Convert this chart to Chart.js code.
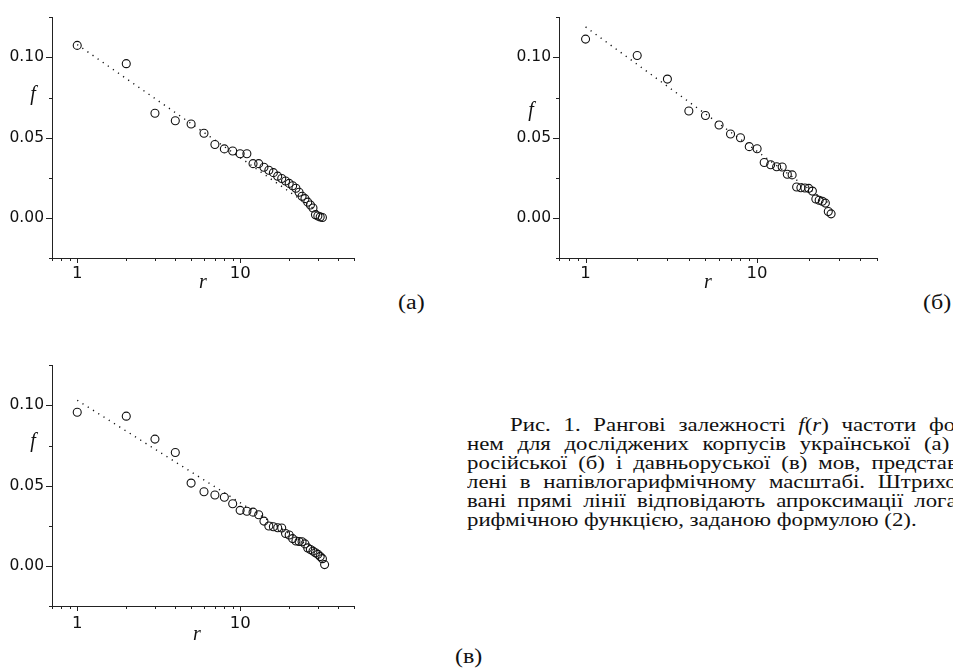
<!DOCTYPE html>
<html><head><meta charset="utf-8">
<script src="https://cdn.jsdelivr.net/npm/chart.js@4.4.0/dist/chart.umd.min.js"></script>
<style>
html,body{margin:0;padding:0;background:#fff;}
body{width:953px;height:668px;overflow:hidden;position:relative;}
.cw{position:absolute;}
.serif{position:absolute;font-family:"Liberation Serif","Times New Roman",serif;font-size:19px;line-height:19px;color:#111;transform-origin:0 0;transform:scaleX(1.2);white-space:nowrap;}
.ln{display:flex;justify-content:space-between;}
.lab{font-size:20px;line-height:20px;}
</style></head><body>
<div class="cw" style="left:0;top:0;"><canvas id="ca" width="380" height="300"></canvas></div>
<div class="cw" style="left:500px;top:0;"><canvas id="cb" width="400" height="300"></canvas></div>
<div class="cw" style="left:0;top:348px;"><canvas id="cc" width="380" height="300"></canvas></div>

<div class="serif lab" style="left:398px;top:292px">(а)</div>
<div class="serif lab" style="left:923px;top:292px">(б)</div>
<div class="serif lab" style="left:455px;top:646px">(в)</div>

<div class="serif ln" style="left:510px;top:415px;width:371px"><span>Рис.</span><span>1.</span><span>Рангові</span><span>залежності</span><span><i>f</i>(<i>r</i>)</span><span>частоти</span><span>фо</span></div>
<div class="serif ln" style="left:467px;top:434px;width:402px"><span>нем</span><span>для</span><span>досліджених</span><span>корпусів</span><span>української</span><span>(а)</span></div>
<div class="serif ln" style="left:467px;top:453px;width:409px"><span>російської</span><span>(б)</span><span>і</span><span>давньоруської</span><span>(в)</span><span>мов,</span><span>представ</span></div>
<div class="serif ln" style="left:467px;top:472px;width:408px"><span>лені</span><span>в</span><span>напівлогарифмічному</span><span>масштабі.</span><span>Штрихо</span></div>
<div class="serif ln" style="left:467px;top:491px;width:408px"><span>вані</span><span>прямі</span><span>лінії</span><span>відповідають</span><span>апроксимації</span><span>лога</span></div>
<div class="serif" style="left:467px;top:510px">рифмічною функцією, заданою формулою (2).</div>

<script>
// ---- data ----
const ranksA = [1,2,3,4,5,6,7,8,9,10,11,12,13,14,15,16,17,18,19,20,21,22,23,24,25,26,27,28,29,30,31,32];
const freqA  = [0.1075,0.0961,0.0652,0.0605,0.0585,0.0527,0.0457,0.0430,0.0417,0.0400,0.0400,0.0338,0.0338,0.0316,0.0297,0.0282,0.0260,0.0245,0.0230,0.0215,0.0200,0.0185,0.0160,0.0135,0.0120,0.0098,0.0080,0.0062,0.0020,0.0012,0.0006,0.0002];
const fitRA  = [1, 32];
const fitFA  = [0.108, 0.0020];

const ranksB = [1,2,3,4,5,6,7,8,9,10,11,12,13,14,15,16,17,18,19,20,21,22,23,24,25,26,27];
const freqB  = [0.1114,0.1012,0.0865,0.0666,0.0638,0.0579,0.0523,0.0499,0.0444,0.0431,0.0345,0.0331,0.0319,0.0317,0.0272,0.0268,0.0192,0.0188,0.0186,0.0184,0.0167,0.0118,0.0110,0.0104,0.0092,0.0040,0.0025];
const fitRB  = [1, 26];
const fitFB  = [0.119, 0.0093];

const ranksC = [1,2,3,4,5,6,7,8,9,10,11,12,13,14,15,16,17,18,19,20,21,22,23,24,25,26,27,28,29,30,31,32,33];
const freqC  = [0.0957,0.0933,0.0790,0.0707,0.0516,0.0462,0.0442,0.0428,0.0387,0.0346,0.0340,0.0335,0.0319,0.0279,0.0249,0.0244,0.0238,0.0236,0.0202,0.0192,0.0170,0.0155,0.0152,0.0150,0.0137,0.0112,0.0102,0.0092,0.0082,0.0072,0.0058,0.0045,0.0008];
const fitRC  = [1, 33];
const fitFC  = [0.1032, 0.0063];

const xTickValues = [0.7,0.8,0.9,1,2,3,4,5,6,7,8,9,10,20,30,40,50];
const xTickLabels = ['','','','1','','','','','','','','','10','','','',''];
const yTickValues = [-0.025,0,0.025,0.05,0.075,0.1,0.125];
const yTickLabels = ['','0.00','','0.05','','0.10',''];

const INK = '#111';

const axisDeco = {
  id: 'axisDeco',
  afterDraw(chart, args, o) {
    const {ctx, chartArea: ca, scales: {x, y}} = chart;
    ctx.save();
    ctx.strokeStyle = '#222';
    ctx.lineWidth = 1;
    ctx.beginPath();
    x.ticks.forEach((t, i) => {
      const px = Math.round(x.getPixelForValue(t.value)) + 0.5;
      const len = xTickLabels[i] ? 5 : 3;
      ctx.moveTo(px, ca.bottom); ctx.lineTo(px, ca.bottom + len);
    });
    y.ticks.forEach((t, i) => {
      const py = Math.round(y.getPixelForValue(t.value)) + 0.5;
      const len = yTickLabels[i] ? 6 : 3;
      ctx.moveTo(ca.left, py); ctx.lineTo(ca.left - len, py);
    });
    ctx.stroke();
    ctx.fillStyle = INK;
    ctx.font = 'italic 20px "Liberation Serif", "Times New Roman", serif';
    ctx.textAlign = 'center';
    ctx.textBaseline = 'middle';
    ctx.fillText('r', (ca.left + ca.right) / 2 + o.rDx, ca.bottom + o.rDy);
    ctx.fillText('f', ca.left - o.fDx, y.getPixelForValue(o.fVal));
    ctx.restore();
  }
};

function makeChart(id, ranks, freq, fitR, fitF, geo) {
  const pts = ranks.map((r, i) => ({x: r, y: freq[i]}));
  const fit = fitR.map((r, i) => ({x: r, y: fitF[i]}));
  return new Chart(document.getElementById(id), {
    type: 'scatter',
    data: {
      datasets: [
        {data: fit, showLine: true, pointRadius: 0, borderColor: INK, borderWidth: 1.4, borderDash: [1.2, 5], fill: false},
        {data: pts, pointRadius: 4, pointBorderWidth: 1.1, pointBorderColor: INK, pointBackgroundColor: 'rgba(0,0,0,0)', borderColor: INK}
      ]
    },
    options: {
      responsive: false,
      animation: false,
      devicePixelRatio: 1,
      layout: {padding: {left: 0, right: geo.padRight, top: geo.padTop, bottom: 0}},
      plugins: {legend: {display: false}, tooltip: {enabled: false}, axisDeco: geo.deco},
      scales: {
        x: {
          type: 'logarithmic', min: 0.7, max: 50,
          grid: {display: false, drawTicks: false},
          border: {display: true, color: '#222', width: 1},
          afterBuildTicks: (s) => { s.ticks = xTickValues.map(v => ({value: v})); },
          afterFit: (s) => { s.height = geo.xH; },
          ticks: {autoSkip: false, maxRotation: 0, padding: geo.xPad, color: INK,
                  font: {family: '"DejaVu Sans", sans-serif', size: 16.5},
                  callback: (v, i) => xTickLabels[i]}
        },
        y: {
          type: 'linear', min: -0.025, max: 0.125,
          grid: {display: false, drawTicks: false},
          border: {display: true, color: '#222', width: 1},
          afterBuildTicks: (s) => { s.ticks = yTickValues.map(v => ({value: v})); },
          afterFit: (s) => { s.width = geo.yW; },
          ticks: {autoSkip: false, padding: 8, color: INK,
                  font: {family: '"DejaVu Sans", sans-serif', size: 15.5},
                  callback: (v, i) => yTickLabels[i]}
        }
      }
    },
    plugins: [axisDeco]
  });
}

makeChart('ca', ranksA, freqA, fitRA, fitFA, {padRight: 26, padTop: 13, xH: 42, yW: 52, xPad: 6, deco: {rDx: 0, rDy: 25, fDx: 19, fVal: 0.077}});
makeChart('cb', ranksB, freqB, fitRB, fitFB, {padRight: 23, padTop: 13, xH: 42, yW: 59, xPad: 6, deco: {rDx: -10, rDy: 25, fDx: 28, fVal: 0.067}});
makeChart('cc', ranksC, freqC, fitRC, fitFC, {padRight: 26, padTop: 13, xH: 42, yW: 52, xPad: 8, deco: {rDx: -6, rDy: 29, fDx: 19, fVal: 0.0775}});
</script>
</body></html>
